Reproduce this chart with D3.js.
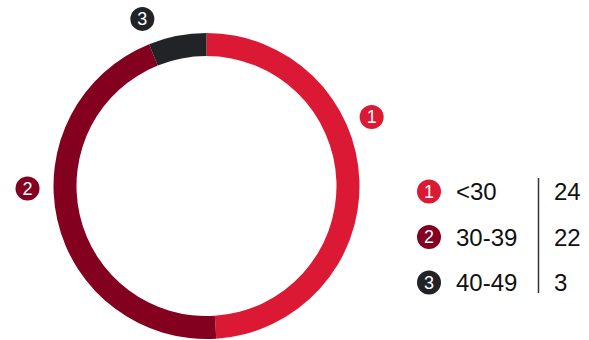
<!DOCTYPE html>
<html><head><meta charset="utf-8">
<script src="https://cdn.jsdelivr.net/npm/d3@7"></script>
<style>html,body{margin:0;padding:0;background:#fff;}svg{display:block;}</style>
</head><body>
<svg id="c" width="589" height="340"></svg>
<script>
const categories = ["<30", "30-39", "40-49"];
const values = [24, 22, 3];
const markers = ["1", "2", "3"];
const colors = ["#DC1934", "#83001F", "#222326"];
// label placement angles (degrees, clockwise from top) for the outside markers
const labelAngles = [67.3, 269.2, 339];

const svg = d3.select("#c");
const cx = 206.5, cy = 186, R = 153, thick = 23;
const g = svg.append("g").attr("transform", `translate(${cx},${cy})`);
const pie = d3.pie().sort(null).value(d => d)(values);
const arc = d3.arc().innerRadius(R - thick).outerRadius(R);
g.selectAll("path.s").data(pie).join("path").attr("class","s")
  .attr("d", arc).attr("fill", (d,i) => colors[i]);

const lr = 179;
const lab = g.selectAll("g.lab").data(pie).join("g").attr("class","lab")
  .attr("transform", (d,i) => {
    const a = labelAngles[i] * Math.PI/180;
    return `translate(${lr*Math.sin(a)},${-lr*Math.cos(a)})`;
  });
lab.append("circle").attr("r", 12).attr("fill", (d,i) => colors[i]);
lab.append("text").text((d,i) => markers[i]).attr("text-anchor","middle").attr("dy","0.36em")
  .attr("fill","#fff").attr("font-family","Liberation Sans, Arial, sans-serif").attr("font-size",18);

// legend
const ly = d3.scalePoint().domain(categories).range([191.5, 282.5]);
const lg = svg.append("g");
const rows = lg.selectAll("g").data(categories).join("g")
  .attr("transform", d => `translate(0,${ly(d)})`);
rows.append("circle").attr("cx", 429).attr("r", 12).attr("fill", (d,i) => colors[i]);
rows.append("text").attr("x", 429).attr("dy","0.36em").attr("text-anchor","middle")
  .attr("fill","#fff").attr("font-family","Liberation Sans, Arial, sans-serif").attr("font-size",18)
  .text((d,i) => markers[i]);
rows.append("text").attr("x", 456).attr("dy","0.36em").attr("fill","#111")
  .attr("font-family","Liberation Sans, Arial, sans-serif").attr("font-size",24).text(d => d);
rows.append("text").attr("x", 554).attr("dy","0.36em").attr("fill","#111")
  .attr("font-family","Liberation Sans, Arial, sans-serif").attr("font-size",24).text((d,i) => values[i]);
lg.append("line").attr("x1",538.5).attr("x2",538.5).attr("y1",178).attr("y2",293)
  .attr("stroke","#333").attr("stroke-width",1.5);
</script>
</body></html>
